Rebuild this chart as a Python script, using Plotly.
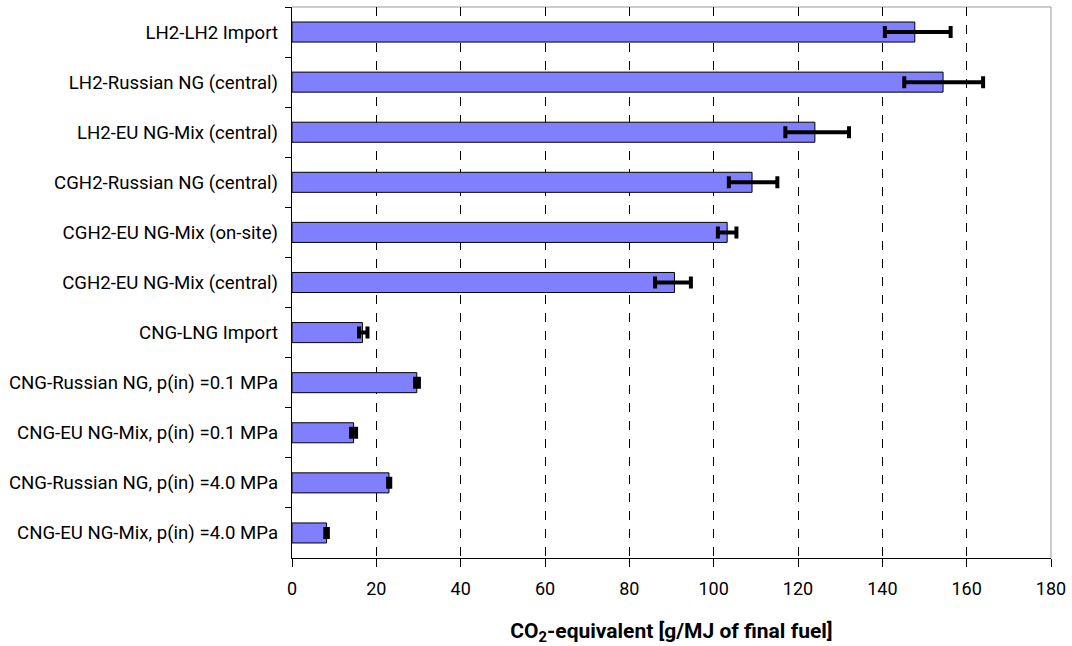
import plotly.graph_objects as go

categories = [
    "LH2-LH2 Import",
    "LH2-Russian NG (central)",
    "LH2-EU NG-Mix (central)",
    "CGH2-Russian NG (central)",
    "CGH2-EU NG-Mix (on-site)",
    "CGH2-EU NG-Mix (central)",
    "CNG-LNG Import",
    "CNG-Russian NG, p(in) =0.1 MPa",
    "CNG-EU NG-Mix, p(in) =0.1 MPa",
    "CNG-Russian NG, p(in) =4.0 MPa",
    "CNG-EU NG-Mix, p(in) =4.0 MPa",
]
values = [147.7, 154.4, 124.0, 109.1, 103.2, 90.7, 16.7, 29.6, 14.6, 23.0, 8.2]
err_low = [140.6, 145.2, 117.0, 103.6, 101.0, 86.1, 15.9, 29.2, 14.0, 22.8, 7.9]
err_high = [156.2, 163.9, 132.1, 115.1, 105.4, 94.6, 17.9, 30.1, 15.2, 23.3, 8.5]
x_ticks = [0, 20, 40, 60, 80, 100, 120, 140, 160, 180]

plus = [h - v for h, v in zip(err_high, values)]
minus = [v - l for l, v in zip(err_low, values)]

FONT = "Roboto"

fig = go.Figure()
fig.add_trace(go.Bar(
    y=categories, x=values, orientation="h",
    marker=dict(color="#8080FF", line=dict(color="black", width=1)),
    error_x=dict(type="data", symmetric=False, array=plus, arrayminus=minus,
                 color="black", thickness=4, width=6),
    width=0.4,
))

fig.update_layout(
    width=1072, height=646,
    margin=dict(l=292, r=21, t=7, b=88),
    paper_bgcolor="white", plot_bgcolor="white",
    showlegend=False,
    font=dict(family=FONT, size=18, color="black"),
    xaxis=dict(
        range=[0, 180], tickvals=x_ticks, ticks="outside", ticklen=8,
        ticklabelstandoff=6,
        tickcolor="black", showline=True, linecolor="black", linewidth=1,
        showgrid=True, gridcolor="black", griddash="dash", gridwidth=1,
        zeroline=False, automargin=False,
        tickfont=dict(family=FONT, size=18),
        title=dict(text="<b>CO<sub>2</sub>-equivalent [g/MJ of final fuel]</b>",
                   font=dict(family=FONT, size=21), standoff=28),
    ),
    yaxis=dict(
        categoryorder="array", categoryarray=categories, autorange="reversed",
        ticks="outside", tickson="boundaries", ticklen=6, tickcolor="black",
        showline=True, linecolor="black", linewidth=1, showgrid=False,
        automargin=False,
        tickfont=dict(family=FONT, size=18.6), ticksuffix="  ",
    ),
    shapes=[
        dict(type="line", xref="paper", yref="paper", x0=0, x1=1, y0=1, y1=1,
             line=dict(color="#999999", width=1), layer="below"),
        dict(type="line", xref="paper", yref="paper", x0=1, x1=1, y0=0, y1=1,
             line=dict(color="#999999", width=1), layer="below"),
    ],
)

fig.write_html(
    "out.html",
    config={"displayModeBar": False},
    post_script="document.body.style.margin='0';document.body.style.padding='0';",
)
